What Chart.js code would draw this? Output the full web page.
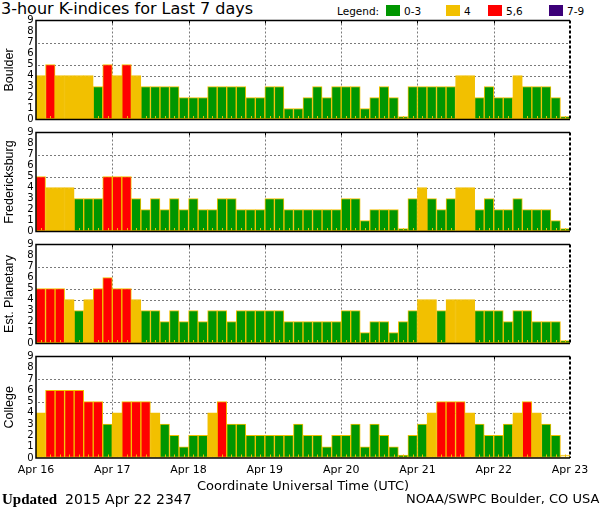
<!DOCTYPE html>
<html>
<head>
<meta charset="utf-8">
<script src="https://cdn.jsdelivr.net/npm/chart.js@4.4.0/dist/chart.umd.min.js"></script>
<style>
  body { margin: 0; background: #fff; }
  #wrap { position: relative; width: 600px; height: 510px; overflow: hidden; font-family: "DejaVu Sans", sans-serif; color: #000; }
  canvas { position: absolute; left: 0; }
  .t { position: absolute; white-space: nowrap; line-height: 16px; }
  .box { position: absolute; top: 5px; width: 14px; height: 11px; }
</style>
</head>
<body>
<div id="wrap">
  <div class="t" style="left:1px;top:1px;font-size:16px">3-hour K-indices for Last 7 days</div>
  <div class="t" style="left:337px;top:3px;font-size:10.5px">Legend:</div>
  <div class="box" style="left:386px;background:#009600"></div>
  <div class="t" style="left:404px;top:3px;font-size:10.5px">0-3</div>
  <div class="box" style="left:446px;background:#f2c000"></div>
  <div class="t" style="left:464px;top:3px;font-size:10.5px">4</div>
  <div class="box" style="left:488px;background:#ff0000"></div>
  <div class="t" style="left:506px;top:3px;font-size:10.5px">5,6</div>
  <div class="box" style="left:549px;background:#3c0078"></div>
  <div class="t" style="left:567px;top:3px;font-size:10.5px">7-9</div>

  <canvas id="c0" width="600" height="116" style="top:12px"></canvas>
  <canvas id="c1" width="600" height="116" style="top:124px"></canvas>
  <canvas id="c2" width="600" height="116" style="top:236px"></canvas>
  <canvas id="c3" width="600" height="152" style="top:348px"></canvas>

  <div class="t" style="left:2px;top:491px;font:bold 15px 'Liberation Serif';line-height:16px">Updated</div>
  <div class="t" style="left:65px;top:491px;font-size:14px">2015 Apr 22 2347</div>
  <div class="t" style="left:406px;top:491px;font-size:13px">NOAA/SWPC Boulder, CO USA</div>
</div>
<script>
const days = ['Apr 16', 'Apr 17', 'Apr 18', 'Apr 19', 'Apr 20', 'Apr 21', 'Apr 22', 'Apr 23'];
const stations = ['Boulder', 'Fredericksburg', 'Est. Planetary', 'College'];

// 3-hour K values, 8 per day, Apr 16 00UT .. Apr 22 21UT
const boulder = [
  4, 5, 4, 4, 4, 4, 3, 5,
  4, 5, 4, 3, 3, 3, 3, 2,
  2, 2, 3, 3, 3, 3, 2, 2,
  3, 3, 1, 1, 2, 3, 2, 3,
  3, 3, 1, 2, 3, 2, 0, 3,
  3, 3, 3, 3, 4, 4, 2, 3,
  2, 2, 4, 3, 3, 3, 2, 0
];
const fredericksburg = [
  5, 4, 4, 4, 3, 3, 3, 5,
  5, 5, 3, 2, 3, 2, 3, 2,
  3, 2, 2, 3, 3, 2, 2, 2,
  3, 3, 2, 2, 2, 2, 2, 2,
  3, 3, 1, 2, 2, 2, 0, 3,
  4, 3, 2, 3, 4, 4, 2, 3,
  2, 2, 3, 2, 2, 2, 1, 0
];
const planetary = [
  5, 5, 5, 4, 3, 4, 5, 6,
  5, 5, 4, 3, 3, 2, 3, 2,
  3, 2, 3, 3, 2, 3, 3, 3,
  3, 3, 2, 2, 2, 2, 2, 2,
  3, 3, 1, 2, 2, 1, 2, 3,
  4, 4, 3, 4, 4, 4, 3, 3,
  3, 2, 3, 3, 2, 2, 2, 0
];
const college = [
  4, 6, 6, 6, 6, 5, 5, 3,
  4, 5, 5, 5, 4, 3, 2, 1,
  2, 2, 4, 5, 3, 3, 2, 2,
  2, 2, 2, 3, 2, 2, 1, 2,
  2, 3, 1, 3, 2, 1, 0, 2,
  3, 4, 5, 5, 5, 4, 3, 2,
  2, 3, 4, 5, 4, 3, 2, 0
];
const series = [boulder, fredericksburg, planetary, college];
// last interval still open (drawn white)
const incomplete = [false, false, false, true];
const dottedLevels = [4, 5, 7];

function kColor(v) {
  if (v <= 3) return '#009600';
  if (v === 4) return '#f2c000';
  if (v <= 6) return '#ff0000';
  return '#3c0078';
}

// dotted grid (day boundaries, K = 4, 5, 7) behind the bars
const dots = {
  id: 'dots',
  beforeDatasetsDraw(chart) {
    const ctx = chart.ctx, a = chart.chartArea, x = chart.scales.x, y = chart.scales.y;
    ctx.save();
    ctx.strokeStyle = '#7a7a7a';
    ctx.lineWidth = 1;
    ctx.setLineDash([2, 2]);
    ctx.beginPath();
    for (let d = 1; d < 7; d++) {
      const px = Math.round(x.getPixelForValue(d * 8)) + 0.5;
      ctx.moveTo(px, a.top + 3);
      ctx.lineTo(px, a.bottom);
    }
    dottedLevels.forEach(v => {
      const py = Math.round(y.getPixelForValue(v)) + 0.5;
      ctx.moveTo(a.left + 2, py);
      ctx.lineTo(a.right, py);
    });
    ctx.stroke();
    ctx.restore();
  }
};

const frame = {
  id: 'frame',
  afterDatasetsDraw(chart) {
    const ctx = chart.ctx, a = chart.chartArea, x = chart.scales.x;
    ctx.save();
    ctx.lineWidth = 1;
    ctx.strokeStyle = '#f2c000';
    for (let i = 0; i < 56; i++) {
      const px = Math.round(x.getPixelForValue(i + 0.5)) + 0.5;
      ctx.beginPath(); ctx.moveTo(px, a.bottom - 1); ctx.lineTo(px, a.bottom - 3.5); ctx.stroke();
    }
    ctx.strokeStyle = '#000';
    for (let d = 1; d < 7; d++) {
      const px = Math.round(x.getPixelForValue(d * 8)) + 0.5;
      ctx.beginPath(); ctx.moveTo(px, a.top); ctx.lineTo(px, a.top + 3); ctx.stroke();
    }
    ctx.lineWidth = 1.5;
    ctx.beginPath();
    ctx.moveTo(a.right, a.top); ctx.lineTo(a.left, a.top);
    ctx.lineTo(a.left, a.bottom); ctx.lineTo(a.right, a.bottom);
    ctx.stroke();
    ctx.lineWidth = 2;
    ctx.setLineDash([3, 2]);
    ctx.beginPath(); ctx.moveTo(a.right, a.top); ctx.lineTo(a.right, a.bottom); ctx.stroke();
    ctx.restore();
  }
};

function makePanel(k) {
  const vals = series[k];
  const last = k === 3;
  new Chart(document.getElementById('c' + k), {
    type: 'bar',
    data: {
      datasets: [{
        data: vals.map((v, i) => ({ x: i + 0.5, y: v })),
        backgroundColor: c => (incomplete[k] && c.dataIndex === vals.length - 1) ? '#ffffff' : kColor(c.parsed.y),
        borderColor: '#f2c000',
        borderWidth: 1,
        borderSkipped: false,
        minBarLength: 3,
        barPercentage: 1,
        categoryPercentage: 1
      }]
    },
    options: {
      responsive: false,
      animation: false,
      layout: { padding: { top: 8, bottom: last ? 0 : 6, left: 0, right: 30 } },
      plugins: { legend: { display: false }, tooltip: { enabled: false } },
      scales: {
        x: {
          type: 'linear',
          min: 0,
          max: 56,
          offset: false,
          grid: { offset: false, color: 'rgba(0,0,0,0)', drawTicks: false },
          border: { display: false },
          ticks: {
            display: last,
            stepSize: 8,
            autoSkip: false,
            maxRotation: 0,
            padding: 6,
            color: '#000',
            font: { family: 'DejaVu Sans', size: 11 },
            callback: v => days[Math.round(v / 8)]
          },
          title: {
            display: last,
            text: 'Coordinate Universal Time (UTC)',
            color: '#000',
            font: { family: 'DejaVu Sans', size: 13 },
            padding: { top: 0, bottom: 6 }
          },
          afterFit: s => { s.height = last ? 42 : 0; }
        },
        y: {
          min: 0,
          max: 9,
          grid: { color: 'rgba(0,0,0,0)', drawTicks: false },
          border: { display: false },
          ticks: {
            stepSize: 1,
            autoSkip: false,
            padding: 2.5,
            color: '#000',
            font: { family: 'DejaVu Sans', size: 10 }
          },
          title: {
            display: true,
            text: stations[k],
            color: '#000',
            font: { family: 'Liberation Sans', size: 12.5 },
            padding: { top: 2, bottom: 0 }
          },
          afterFit: s => { s.width = 36; }
        }
      }
    },
    plugins: [dots, frame]
  });
}

for (let k = 0; k < 4; k++) makePanel(k);
</script>
</body>
</html>
